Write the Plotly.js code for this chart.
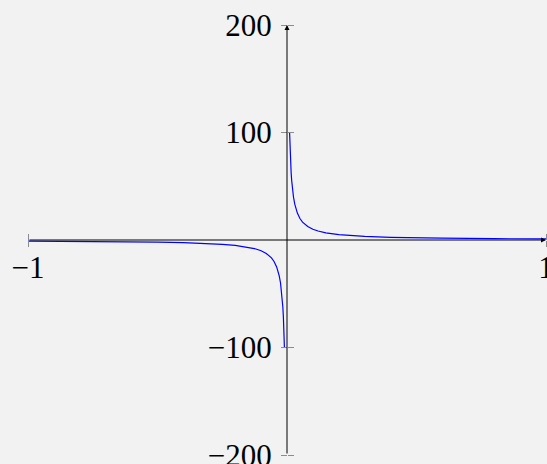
<!DOCTYPE html>
<html>
<head>
<meta charset="utf-8">
<script src="https://cdn.plot.ly/plotly-3.0.1.min.js"></script>
<style>
  html, body { margin: 0; padding: 0; background: #f2f2f2; }
  #plot { width: 547px; height: 464px; }
</style>
</head>
<body>
<div id="plot"></div>
<script>
// Samples of y = 1/x on the negative branch, x in [-1, -0.01]
const xNeg = [-1, -0.8, -0.6, -0.5, -0.4, -0.3, -0.25, -0.2, -0.15, -0.12, -0.1, -0.08,
              -0.06, -0.05, -0.04, -0.035, -0.03, -0.025, -0.02, -0.018, -0.016, -0.014,
              -0.012, -0.011, -0.01];
const yNeg = [-1, -1.25, -1.667, -2, -2.5, -3.333, -4, -5, -6.667, -8.333, -10, -12.5,
              -16.67, -20, -25, -28.57, -33.33, -40, -50, -55.56, -62.5, -71.43,
              -83.33, -90.91, -100];

// Samples on the positive branch, x in [0.01, 1]
const xPos = [0.01, 0.011, 0.012, 0.014, 0.016, 0.018, 0.02, 0.025, 0.03, 0.035, 0.04,
              0.05, 0.06, 0.08, 0.1, 0.12, 0.15, 0.2, 0.25, 0.3, 0.4, 0.5, 0.6, 0.8, 1];
const yPos = [100, 90.91, 83.33, 71.43, 62.5, 55.56, 50, 40, 33.33, 28.57, 25,
              20, 16.67, 12.5, 10, 8.333, 6.667, 5, 4, 3.333, 2.5, 2, 1.667, 1.25, 1];

// Axis ranges and tick labels
const xRange = [-1, 1];
const yRange = [-200, 200];
const xTicks = [-1, 1];
const yTicks = [-200, -100, 100, 200];

const curveColor = '#0000ff';
const tickColor = '#8c8c8c';
const labelFont = { family: 'Liberation Serif', size: 31, color: '#000' };

const traces = [
  { x: xNeg, y: yNeg, mode: 'lines', line: { color: curveColor, width: 1.2 }, hoverinfo: 'skip' },
  { x: xPos, y: yPos, mode: 'lines', line: { color: curveColor, width: 1.2 }, hoverinfo: 'skip' },
  // keeps the mirrored tick axes on their own overlay subplot
  { x: xRange, y: yRange, xaxis: 'x2', yaxis: 'y2', mode: 'markers',
    marker: { opacity: 0 }, hoverinfo: 'skip' }
];

const baseAxis = {
  showgrid: false, zeroline: false, showline: false,
  ticks: 'outside', ticklen: 6, tickwidth: 1, tickcolor: tickColor,
  anchor: 'free', position: 0.5, fixedrange: true, automargin: false,
  ticklabeloverflow: 'allow'
};

const layout = {
  width: 547, height: 464,
  margin: { l: 28, r: 1, t: 25, b: 9 },
  paper_bgcolor: '#f2f2f2',
  plot_bgcolor: '#f2f2f2',
  showlegend: false,
  xaxis: Object.assign({}, baseAxis, {
    range: xRange, tickmode: 'array', tickvals: xTicks, tickfont: labelFont,
    ticklabelstandoff: -6
  }),
  xaxis2: Object.assign({}, baseAxis, {
    range: xRange, tickmode: 'array', tickvals: xTicks, showticklabels: false,
    overlaying: 'x', side: 'top'
  }),
  yaxis: Object.assign({}, baseAxis, {
    range: yRange, tickmode: 'array', tickvals: yTicks, tickfont: labelFont,
    ticklabelstandoff: 3
  }),
  yaxis2: Object.assign({}, baseAxis, {
    range: yRange, tickmode: 'array', tickvals: yTicks, showticklabels: false,
    overlaying: 'y', side: 'right'
  }),
  annotations: [
    // horizontal axis with arrow tip at the right end
    { x: xRange[1], y: 0, ax: xRange[0], ay: 0, xref: 'x', yref: 'y', axref: 'x', ayref: 'y',
      text: '', showarrow: true, arrowhead: 2, arrowsize: 1, arrowwidth: 1, arrowcolor: '#000' },
    // vertical axis with arrow tip at the top
    { x: 0, y: yRange[1], ax: 0, ay: yRange[0], xref: 'x', yref: 'y', axref: 'x', ayref: 'y',
      text: '', showarrow: true, arrowhead: 2, arrowsize: 1, arrowwidth: 1, arrowcolor: '#000' }
  ]
};

Plotly.newPlot('plot', traces, layout, { staticPlot: true, displayModeBar: false });
</script>
</body>
</html>
